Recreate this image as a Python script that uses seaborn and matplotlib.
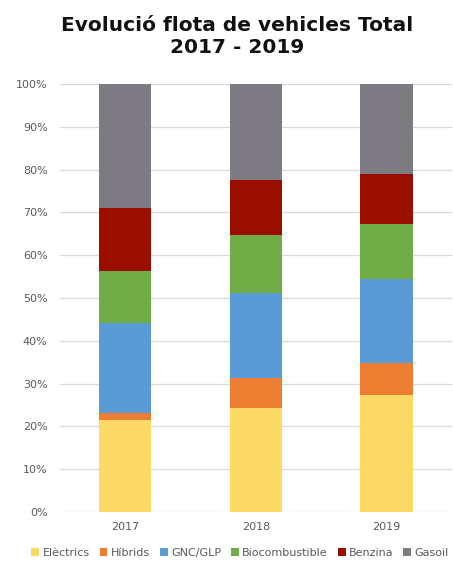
import matplotlib
matplotlib.use("Agg")
import matplotlib.pyplot as plt
import seaborn as sns
import pandas as pd
import numpy as np
from matplotlib.patches import Patch
from matplotlib.ticker import PercentFormatter

years = ["2017", "2018", "2019"]
categories = ["Elèctrics", "Híbrids", "GNC/GLP", "Biocombustible", "Benzina", "Gasoil"]
electrics = [21.5, 24.3, 27.4]
hibrids = [1.6, 6.9, 7.3]
gnc_glp = [21.1, 19.9, 19.7]
biocombustible = [12.1, 13.6, 13.0]
benzina = [14.8, 12.9, 11.6]
gasoil = [28.9, 22.4, 21.0]

colors = ["#FDD966", "#ED7D31", "#5B9BD5", "#70AD47", "#9A0E00", "#7E7B83"]

shares = pd.DataFrame(
    {"Elèctrics": electrics, "Híbrids": hibrids, "GNC/GLP": gnc_glp,
     "Biocombustible": biocombustible, "Benzina": benzina, "Gasoil": gasoil},
    index=years,
)
cumul = shares[categories].cumsum(axis=1)

sns.set_theme(style="white")
plt.rcParams["font.family"] = ["DejaVu Sans"]

fig = plt.figure(figsize=(4.53, 5.62), dpi=100)
ax = fig.add_axes([0.1325, 0.089, 0.865, 0.7615])

# draw stacked bars from the top layer down so each lower layer covers the rest
for cat, col in reversed(list(zip(categories, colors))):
    df_layer = pd.DataFrame({"year": years, "value": cumul[cat].values})
    sns.barplot(data=df_layer, x="year", y="value", color=col, width=0.4,
                saturation=1, linewidth=0, edgecolor="none", ax=ax, zorder=3)

ax.set_ylim(0, 100)
ax.set_xlim(-0.5, 2.5)
ax.set_yticks(np.arange(0, 101, 10))
ax.yaxis.set_major_formatter(PercentFormatter(decimals=0))
ax.grid(axis="y", color="#D9D9D9", linewidth=0.9, zorder=0)
ax.set_axisbelow(True)
for s in ax.spines.values():
    s.set_visible(False)
ax.tick_params(axis="y", length=0, labelsize=8, labelcolor="#595959", pad=9)
ax.tick_params(axis="x", length=0, labelsize=8, labelcolor="#595959", pad=7)
ax.set_xlabel("")
ax.set_ylabel("")

fig.text(0.523, 0.935, "Evolució flota de vehicles Total\n2017 - 2019",
         ha="center", va="center", fontsize=14.5, fontweight="bold",
         color="#111111", linespacing=1.25)

handles = [Patch(facecolor=c, edgecolor="none", label=l) for l, c in zip(categories, colors)]
fig.legend(handles=handles, loc="center", bbox_to_anchor=(0.53, 0.016), ncol=6,
           frameon=False, fontsize=8, handlelength=0.7, handleheight=0.7,
           handletextpad=0.3, columnspacing=0.9, labelcolor="#595959")

fig.savefig("out.png", dpi=100, facecolor="white")
